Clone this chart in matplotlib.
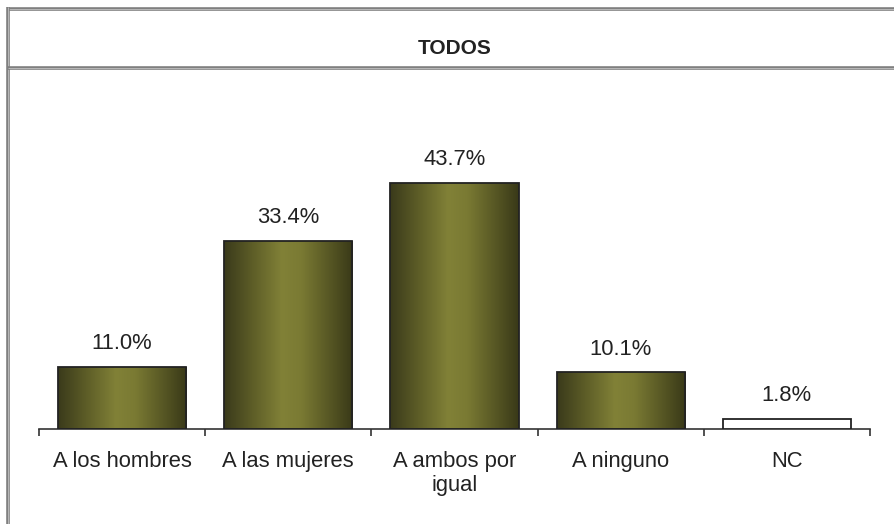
import numpy as np
import matplotlib
matplotlib.use('Agg')
import matplotlib.pyplot as plt
from matplotlib.colors import LinearSegmentedColormap
from matplotlib.lines import Line2D

plt.rcParams['font.family'] = ['Liberation Sans', 'DejaVu Sans']

categories = ['A los hombres', 'A las mujeres', 'A ambos por\nigual', 'A ninguno', 'NC']
values = [11.0, 33.4, 43.7, 10.1, 1.8]
labels = ['11.0%', '33.4%', '43.7%', '10.1%', '1.8%']
title = 'TODOS'

W, H = 894, 524
fig = plt.figure(figsize=(W / 100, H / 100), dpi=100)
fig.patch.set_facecolor('white')

# axes placed in pixel terms: baseline y=429, ticks x=39..870
ax = fig.add_axes([39 / W, (H - 429) / H, (870 - 39) / W, (429 - 100) / H])
ax.set_xlim(-0.5, 4.5)
ax.set_ylim(0, (429 - 100) / 5.64)

grad = LinearSegmentedColormap.from_list('olive', [
    (0.0, '#3a3a1b'), (0.2, '#5a5a26'), (0.45, '#818137'),
    (0.6, '#7a7a33'), (0.85, '#525222'), (1.0, '#393918')])
gimg = np.linspace(0, 1, 256).reshape(1, -1)

x = np.arange(len(categories))
bars = ax.bar(x, values, width=0.772, color='none', edgecolor='#222222', linewidth=1.3, zorder=3)
for i, b in enumerate(bars):
    if categories[i] == 'NC':
        b.set_facecolor('white')
        continue
    im = ax.imshow(gimg, cmap=grad, aspect='auto', zorder=2,
                   extent=[b.get_x(), b.get_x() + b.get_width(), 0, b.get_height()])
    im.set_clip_path(b)

for i, v in enumerate(values):
    ax.annotate(labels[i], (x[i], v), xytext=(0, 9), textcoords='offset points',
                ha='center', va='bottom', fontsize=15.8, color='#222222')

for s in ['top', 'right', 'left']:
    ax.spines[s].set_visible(False)
ax.spines['bottom'].set_color('#333333')
ax.spines['bottom'].set_linewidth(1.2)
ax.set_yticks([])
ax.set_xticks(x)
ax.set_xticklabels(categories, fontsize=15.8, color='#222222', linespacing=1.2)
ax.tick_params(axis='x', which='major', length=0, pad=16)
ax.set_xticks(np.arange(-0.5, 5, 1), minor=True)
ax.tick_params(axis='x', which='minor', length=5, width=1.2, color='#333333', direction='out')
ax.set_facecolor('none')

fig.text(455 / W, 1 - 48 / H, title, ha='center', va='center', fontsize=15,
         fontweight='bold', color='#222222')


def frame_line(x0, y0, x1, y1):
    fig.add_artist(Line2D([x0 / W, x1 / W], [1 - y0 / H, 1 - y1 / H], color='#7f7f7f',
                          linewidth=2.6, solid_capstyle='butt'))
    fig.add_artist(Line2D([x0 / W, x1 / W], [1 - y0 / H, 1 - y1 / H], color='#b8b8b8',
                          linewidth=0.7, solid_capstyle='butt'))


frame_line(7, 8.8, W, 8.8)
frame_line(8, 7, 8, H)
frame_line(8, 67.8, W, 67.8)

fig.savefig('out.png', dpi=100)
